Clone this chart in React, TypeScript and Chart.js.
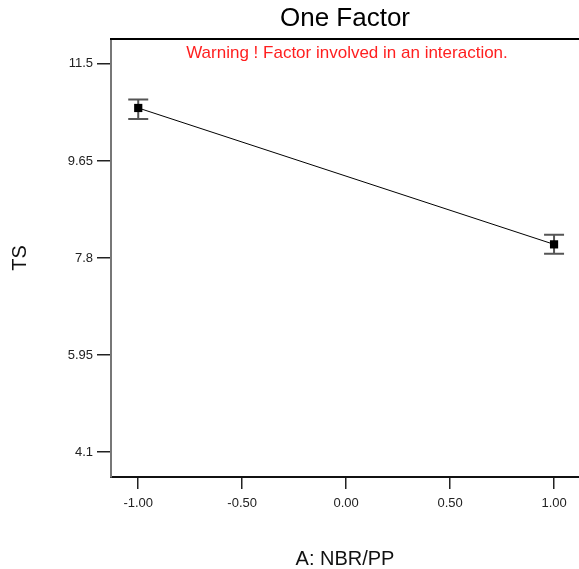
import React, { useEffect, useRef } from "react";
import { Chart, registerables } from "chart.js";

Chart.register(...registerables);

const xLevels = [-1, 1];
const meanTS = [10.66, 8.06];
const lowerTS = [10.45, 7.88];
const upperTS = [10.82, 8.245];
const yTickValues = [4.1, 5.95, 7.8, 9.65, 11.5];
const yTickLabels = ["4.1", "5.95", "7.8", "9.65", "11.5"];
const xTickValues = [-1, -0.5, 0, 0.5, 1];
const xTickLabels = ["-1.00", "-0.50", "0.00", "0.50", "1.00"];

const FONT = "'Liberation Sans', Arial, sans-serif";

const overlayPlugin = {
  id: "overlay",
  beforeDatasetsDraw(chart: any) {
    const { ctx, scales } = chart;
    const xs = scales.x;
    const ys = scales.y;
    ctx.save();
    ctx.strokeStyle = "#555555";
    ctx.lineWidth = 2;
    for (let i = 0; i < xLevels.length; i++) {
      const px = xs.getPixelForValue(xLevels[i]);
      const pTop = ys.getPixelForValue(upperTS[i]);
      const pBot = ys.getPixelForValue(lowerTS[i]);
      ctx.beginPath();
      ctx.moveTo(px, pTop);
      ctx.lineTo(px, pBot);
      ctx.moveTo(px - 10, pTop);
      ctx.lineTo(px + 10, pTop);
      ctx.moveTo(px - 10, pBot);
      ctx.lineTo(px + 10, pBot);
      ctx.stroke();
    }
    ctx.restore();
  },
  afterDraw(chart: any) {
    const { ctx, chartArea } = chart;
    ctx.save();
    ctx.strokeStyle = "#000000";
    ctx.lineWidth = 2;
    ctx.beginPath();
    ctx.moveTo(chartArea.left - 1, chartArea.top);
    ctx.lineTo(chartArea.right, chartArea.top);
    ctx.stroke();
    const cx = (chartArea.left + chartArea.right) / 2;
    ctx.textAlign = "center";
    ctx.textBaseline = "middle";
    ctx.fillStyle = "#000000";
    ctx.font = `26px ${FONT}`;
    ctx.fillText("One Factor", cx, 19);
    ctx.fillStyle = "#ff1f1f";
    ctx.font = `17px ${FONT}`;
    ctx.fillText("Warning ! Factor involved in an interaction.", cx + 2, 53);
    ctx.restore();
  },
};

export default function App() {
  const ref = useRef<HTMLCanvasElement | null>(null);
  useEffect(() => {
    document.body.style.margin = "0";
    const canvas = ref.current;
    if (!canvas) return;
    const chart = new Chart(canvas, {
      type: "scatter",
      data: {
        datasets: [
          {
            data: xLevels.map((x, i) => ({ x, y: meanTS[i] })),
            showLine: true,
            borderColor: "#000000",
            borderWidth: 1,
            pointStyle: "rect",
            pointRadius: 5.8,
            pointBackgroundColor: "#000000",
            pointBorderColor: "#000000",
            pointBorderWidth: 0,
          },
        ],
      },
      options: {
        responsive: false,
        animation: false,
        devicePixelRatio: 1,
        layout: { autoPadding: false, padding: { top: 39, left: 0, right: 0, bottom: 0 } },
        plugins: {
          legend: { display: false },
          tooltip: { enabled: false },
          title: { display: false },
        },
        scales: {
          x: {
            type: "linear",
            min: -1.131,
            max: 1.12,
            afterFit: (s: any) => {
              s.height = 92;
            },
            afterBuildTicks: (s: any) => {
              s.ticks = xTickValues.map((v) => ({ value: v }));
            },
            ticks: {
              autoSkip: false,
              maxRotation: 0,
              padding: 7,
              color: "#222222",
              font: { family: FONT, size: 13 },
              callback: (v: any) => {
                const i = xTickValues.indexOf(Number(v));
                return i >= 0 ? xTickLabels[i] : "";
              },
            },
            grid: {
              drawOnChartArea: false,
              drawTicks: true,
              tickLength: 12,
              color: "#222222",
              lineWidth: 1.5,
            },
            border: { display: true, color: "#111111", width: 2 },
            title: {
              display: true,
              text: "A: NBR/PP",
              color: "#111111",
              font: { family: FONT, size: 20, lineHeight: 1 },
              padding: { top: 0, bottom: 0 },
            },
          },
          y: {
            type: "linear",
            min: 3.625,
            max: 11.975,
            afterFit: (s: any) => {
              s.width = 111;
            },
            afterBuildTicks: (s: any) => {
              s.ticks = yTickValues.map((v) => ({ value: v }));
            },
            ticks: {
              autoSkip: false,
              padding: 4,
              color: "#222222",
              font: { family: FONT, size: 13 },
              callback: (v: any) => {
                const i = yTickValues.indexOf(Number(v));
                return i >= 0 ? yTickLabels[i] : "";
              },
            },
            grid: {
              drawOnChartArea: false,
              drawTicks: true,
              tickLength: 14,
              color: "#222222",
              lineWidth: 1.5,
            },
            border: { display: true, color: "#777777", width: 2 },
            title: {
              display: true,
              text: "TS",
              color: "#111111",
              font: { family: FONT, size: 20, lineHeight: 1 },
              padding: { top: 10, bottom: 0 },
            },
          },
        },
      },
      plugins: [overlayPlugin],
    } as any);
    return () => chart.destroy();
  }, []);
  return (
    <div style={{ width: 579, height: 569, background: "#ffffff" }}>
      <canvas ref={ref} width={579} height={569} />
    </div>
  );
}
